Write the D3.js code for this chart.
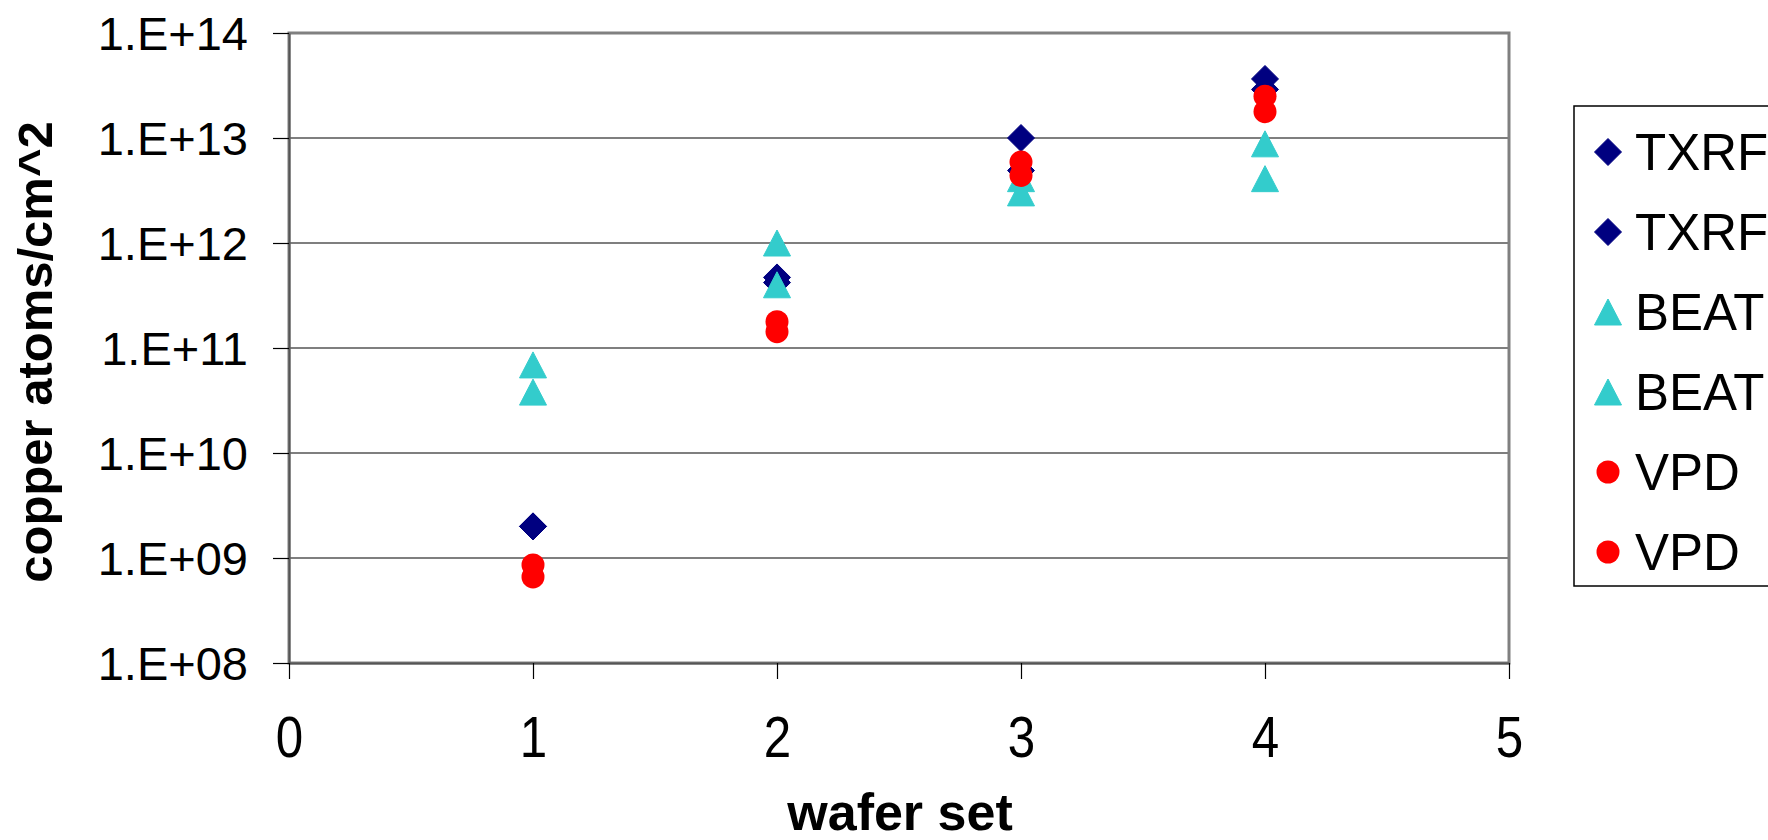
<!DOCTYPE html>
<html>
<head>
<meta charset="utf-8">
<script src="https://cdn.jsdelivr.net/npm/d3@7"></script>
<style>
  body { margin: 0; background: #fff; }
  svg { display: block; font-family: "Liberation Sans", Arial, sans-serif; }
</style>
</head>
<body>
<svg width="1768" height="840"></svg>
<script>
// wafer sets on the x axis
const waferSets = [1, 2, 3, 4];

// copper atoms/cm^2
const txrfA = [2.0e9, 4.7e11, 1.0e13, 3.65e13];
const txrfB = [2.0e9, 4.2e11, 4.9e12, 2.9e13];
const beatA = [6.9e10, 1.0e12, 4.1e12, 8.8e12];
const beatB = [3.8e10, 4.0e11, 3.0e12, 4.1e12];
const vpdA  = [8.6e8, 1.78e11, 5.9e12, 2.5e13];
const vpdB  = [6.6e8, 1.43e11, 4.4e12, 1.78e13];

const seriesNames = ["TXRF", "TXRF", "BEAT", "BEAT", "VPD", "VPD"];
const seriesValues = [txrfA, txrfB, beatA, beatB, vpdA, vpdB];
const seriesShapes = ["diamond", "diamond", "triangle", "triangle", "circle", "circle"];

const xTicks = [0, 1, 2, 3, 4, 5];
const yTicks = [1e8, 1e9, 1e10, 1e11, 1e12, 1e13, 1e14];

const colors = { diamond: "#000080", triangle: "#33cccc", circle: "#ff0000" };

const svg = d3.select("svg");
const area = { left: 289, right: 1509, top: 33, bottom: 663 };

const scX = d3.scaleLinear().domain([0, 5]).range([area.left, area.right]);
const scY = d3.scaleLog().domain([1e8, 1e14]).range([area.bottom, area.top]);

// gridlines
svg.append("g")
    .selectAll("line")
    .data(yTicks.slice(1, -1))
    .enter()
    .append("line")
    .attr("x1", area.left)
    .attr("x2", area.right)
    .attr("y1", d => scY(d))
    .attr("y2", d => scY(d))
    .style("stroke", "#000")
    .style("stroke-width", 1.2);

// plot area border
svg.append("rect")
    .attr("x", area.left)
    .attr("y", area.top)
    .attr("width", area.right - area.left)
    .attr("height", area.bottom - area.top)
    .style("fill", "none")
    .style("stroke", "#808080")
    .style("stroke-width", 3);

function expLabel(d) {
    const e = Math.round(Math.log10(d));
    return "1.E+" + (e < 10 ? "0" + e : e);
}

const axisY = d3.axisLeft(scY)
    .tickValues(yTicks)
    .tickFormat(expLabel)
    .tickSizeInner(16)
    .tickSizeOuter(0)
    .tickPadding(25);

const gY = svg.append("g")
    .attr("transform", `translate(${area.left}, 0)`)
    .call(axisY);
gY.select(".domain").style("stroke", "#555").style("stroke-width", 2);
gY.selectAll(".tick line").style("stroke", "#000").style("stroke-width", 1.2);
gY.selectAll("text")
    .style("font-size", "47px")
    .style("fill", "#000")
    .attr("dy", "0.36em");

const axisX = d3.axisBottom(scX)
    .tickValues(xTicks)
    .tickFormat(d3.format("d"))
    .tickSizeInner(16)
    .tickSizeOuter(0)
    .tickPadding(0);

const gX = svg.append("g")
    .attr("transform", `translate(0, ${area.bottom})`)
    .call(axisX);
gX.select(".domain").style("stroke", "#555").style("stroke-width", 2);
gX.selectAll(".tick line").style("stroke", "#000").style("stroke-width", 1.2);
gX.selectAll("text")
    .style("font-size", "58px")
    .style("fill", "#000")
    .attr("y", 0)
    .attr("dy", 0)
    .attr("transform", "translate(0, 94) scale(0.85, 1)");

// axis titles
svg.append("text")
    .attr("transform", "translate(52, 352) rotate(-90)")
    .attr("text-anchor", "middle")
    .style("font-size", "49px")
    .style("font-weight", "bold")
    .text("copper atoms/cm^2");

svg.append("text")
    .attr("x", 900)
    .attr("y", 830)
    .attr("text-anchor", "middle")
    .style("font-size", "52px")
    .style("font-weight", "bold")
    .text("wafer set");

// markers
const symbolPath = {
    diamond: "M0,-13.5L13.5,0L0,13.5L-13.5,0Z",
    triangle: "M0,-13L13.5,13L-13.5,13Z"
};

function drawMarker(g, shape, x, y) {
    if (shape === "circle") {
        g.append("circle")
            .attr("cx", x)
            .attr("cy", y)
            .attr("r", 11.5)
            .style("fill", colors.circle);
    } else {
        g.append("path")
            .attr("d", symbolPath[shape])
            .attr("transform", `translate(${x}, ${y})`)
            .style("fill", colors[shape])
            .style("stroke", colors[shape])
            .style("stroke-width", 1)
            .style("stroke-linejoin", "round");
    }
}

const gPts = svg.append("g");
seriesValues.forEach((vals, i) => {
    vals.forEach((v, j) => {
        drawMarker(gPts, seriesShapes[i], scX(waferSets[j]), scY(v));
    });
});

// legend (runs past the right edge, as in the original)
const legend = svg.append("g");
legend.append("rect")
    .attr("x", 1574)
    .attr("y", 106)
    .attr("width", 300)
    .attr("height", 480)
    .style("fill", "#fff")
    .style("stroke", "#000")
    .style("stroke-width", 1.5);

seriesNames.forEach((name, i) => {
    const y = 152 + i * 80;
    drawMarker(legend, seriesShapes[i], 1608, y);
    legend.append("text")
        .attr("x", 1635)
        .attr("y", y)
        .attr("dy", "0.36em")
        .style("font-size", "51px")
        .text(name);
});
</script>
</body>
</html>
